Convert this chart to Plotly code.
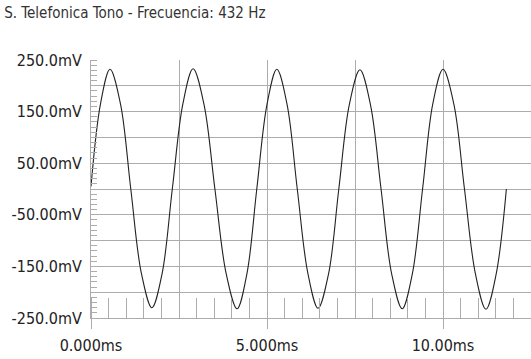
import plotly.graph_objects as go

# Time (ms) and voltage (mV)
time_ms = [0.00, 0.27, 0.54, 0.84, 1.13, 1.43, 1.73, 2.02, 2.31, 2.61,
           2.90, 3.21, 3.52, 3.84, 4.15, 4.43, 4.71, 5.00, 5.28, 5.57,
           5.86, 6.16, 6.45, 6.75, 7.04, 7.34, 7.64, 7.94, 8.24, 8.54,
           8.84, 9.13, 9.42, 9.71, 10.00, 10.31, 10.61, 10.92, 11.22, 11.51,
           11.80]
volt_mv = [5, 165, 232, 164, 0, -163, -230, -164, 0, 165,
           233, 164, 0, -164, -232, -164, 0, 164, 232, 164,
           0, -163, -231, -164, 0, 164, 231, 163, 0, -164,
           -232, -164, 0, 165, 232, 164, 0, -164, -233, -165,
           0]

title_text = "S. Telefonica Tono - Frecuencia: 432 Hz"

y_tickvals = [-250, -200, -150, -100, -50, 0, 50, 100, 150, 200, 250]
y_ticktext = ["-250.0mV", "", "-150.0mV", "", "-50.00mV", "", "50.00mV", "", "150.0mV", "", "250.0mV"]
x_tickvals = [0, 5, 10]
x_ticktext = ["0.000ms", "5.000ms", "10.00ms"]
x_grid_extra = [2.5, 7.5, 12.5]

font_narrow = "DejaVu Sans Condensed, Liberation Sans Narrow, sans-serif"
grid_col = "#acacac"

fig = go.Figure()
fig.add_trace(go.Scatter(
    x=time_ms, y=volt_mv, mode="lines",
    line=dict(color="#222222", width=1.1, shape="spline", smoothing=1.0),
    showlegend=False, hoverinfo="skip",
))
# invisible trace to anchor the secondary grid axis
fig.add_trace(go.Scatter(x=[None], y=[None], xaxis="x2", yaxis="y",
                         showlegend=False, hoverinfo="skip"))

fig.update_layout(
    width=531, height=359,
    margin=dict(l=91, r=0, t=60, b=41),
    paper_bgcolor="white", plot_bgcolor="white",
    title=dict(text=title_text, x=0.008, xanchor="left", y=0.965, yanchor="middle",
               font=dict(family="DejaVu Sans Condensed, Liberation Sans, sans-serif", size=15, color="#333333")),
    xaxis=dict(
        range=[0, 12.5], tickmode="array", tickvals=x_tickvals, ticktext=x_ticktext,
        showgrid=True, gridcolor=grid_col, gridwidth=1,
        showline=True, linecolor=grid_col, linewidth=1,
        ticks="outside", ticklen=10, tickcolor=grid_col, tickwidth=1,
        zeroline=False, automargin=False, ticklabelstandoff=3,
        tickfont=dict(family=font_narrow, size=16, color="#222222"),
        minor=dict(tickmode="linear", tick0=0, dtick=0.5, ticks="inside", ticklen=20,
                   tickcolor=grid_col, tickwidth=1, showgrid=False),
        fixedrange=True,
    ),
    xaxis2=dict(
        range=[0, 12.5], overlaying="x", anchor="y", tickmode="array", tickvals=x_grid_extra,
        showticklabels=False, showgrid=True, gridcolor=grid_col, gridwidth=1,
        ticks="", showline=False, zeroline=False, automargin=False, fixedrange=True,
    ),
    yaxis=dict(
        range=[-250, 250], tickmode="array", tickvals=y_tickvals, ticktext=y_ticktext,
        showgrid=True, gridcolor=grid_col, gridwidth=1,
        showline=True, linecolor=grid_col, linewidth=1,
        ticks="", zeroline=False, ticklabelstandoff=5, automargin=False,
        tickfont=dict(family=font_narrow, size=16, color="#222222"),
        minor=dict(tickmode="linear", tick0=0, dtick=10, ticks="inside", ticklen=6,
                   tickcolor=grid_col, tickwidth=1, showgrid=False),
        fixedrange=True,
    ),
)

fig.write_html("out.html", config={"displayModeBar": False},
               post_script="document.body.style.margin='0';document.body.style.overflow='hidden';")
